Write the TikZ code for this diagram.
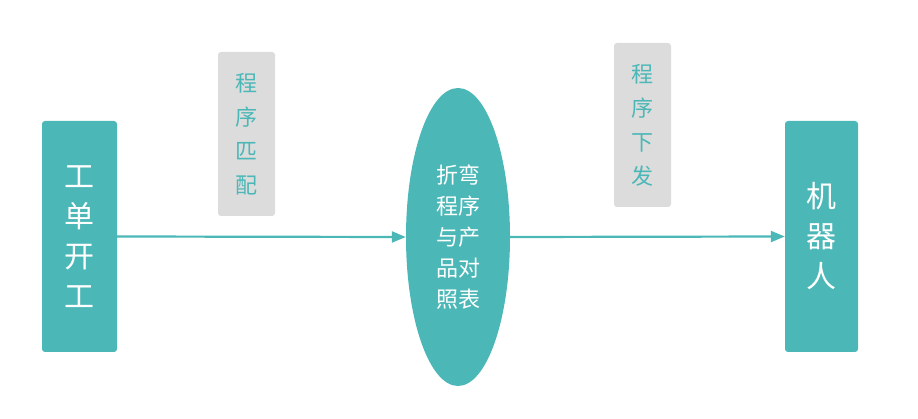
\documentclass[tikz,border=0pt]{standalone}
\usepackage{fontspec}
\setmainfont{Noto Sans CJK SC}
\usetikzlibrary{shapes.geometric,arrows.meta}
\definecolor{teal1}{HTML}{4BB7B7}
\definecolor{gray1}{HTML}{DCDCDC}
\tikzset{
  tealbox/.style={fill=teal1,rounded corners=3pt,minimum width=75pt,minimum height=231pt,text=white,font=\fontsize{30}{40}\selectfont,align=center,inner sep=0},
  graybox/.style={fill=gray1,rounded corners=3pt,minimum width=57pt,minimum height=164pt,text=teal1,font=\fontsize{22}{34}\selectfont,align=center,inner sep=0},
  conn/.style={teal1,line width=2.2pt,-{Triangle[length=14pt,width=11pt]}}
}
\begin{document}
\begin{tikzpicture}[x=1pt,y=-1pt]
\useasboundingbox (0,0) rectangle (918,419);
\node[tealbox] (a) at (79.5,236.5) {工\\单\\开\\工};
\node[tealbox,minimum width=73pt] (c) at (821.5,236.5) {机\\器\\人};
\node[ellipse,fill=teal1,minimum width=104pt,minimum height=298pt,inner sep=0,text=white,align=center,font=\fontsize{22}{31}\selectfont] (b) at (458,237) {折弯\\程序\\与产\\品对\\照表};
\node[graybox] (g1) at (246.5,134) {程\\序\\匹\\配};
\node[graybox] (g2) at (642.5,125) {程\\序\\下\\发};
\draw[conn] (a.east) -- (b.west);
\draw[conn] (b.east) -- (c.west);
\end{tikzpicture}
\end{document}
